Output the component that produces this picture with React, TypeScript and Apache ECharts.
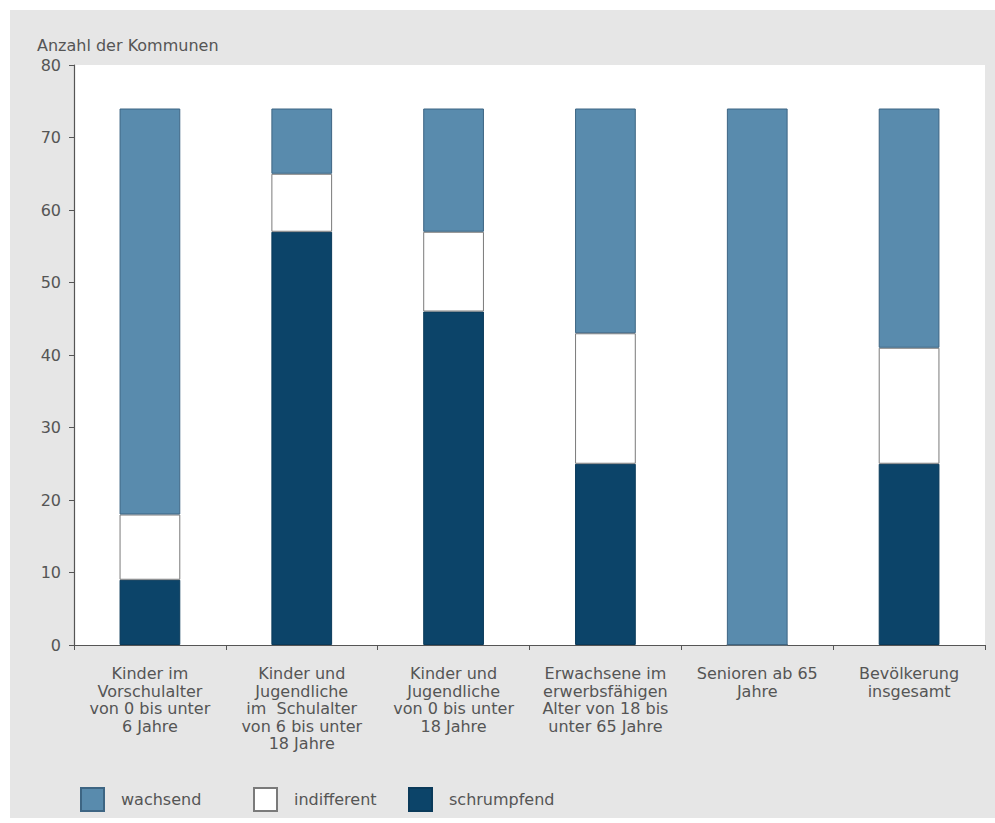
import React, { useEffect, useRef } from "react";
import * as echarts from "echarts";

const categories = [
  "Kinder im\nVorschulalter\nvon 0 bis unter\n6 Jahre",
  "Kinder und\nJugendliche\nim  Schulalter\nvon 6 bis unter\n18 Jahre",
  "Kinder und\nJugendliche\nvon 0 bis unter\n18 Jahre",
  "Erwachsene im\nerwerbsfähigen\nAlter von 18 bis\nunter 65 Jahre",
  "Senioren ab 65\nJahre",
  "Bevölkerung\ninsgesamt",
];
const schrumpfend = [9, 57, 46, 25, 0, 25];
const indifferent = [9, 8, 11, 18, 0, 16];
const wachsend = [56, 9, 17, 31, 74, 33];
const yTicks = { min: 0, max: 80, interval: 10 };

const FONT = "DejaVu Sans";
const TXT = "#555555";

export default function App() {
  const ref = useRef<HTMLDivElement>(null);
  useEffect(() => {
    if (!ref.current) return;
    const chart = echarts.init(ref.current, null, { renderer: "svg" });
    const legendBase = {
      top: 787,
      padding: 0,
      itemWidth: 23,
      itemHeight: 23,
      icon: "rect",
      textStyle: { fontFamily: FONT, fontSize: 16, color: TXT, padding: [0, 0, 0, 12] },
    };
    chart.setOption({
      animation: false,
      backgroundColor: "transparent",
      textStyle: { fontFamily: FONT },
      title: {
        text: "Anzahl der Kommunen",
        left: 32,
        top: 32,
        textStyle: { fontFamily: FONT, fontSize: 16, fontWeight: "normal", color: TXT },
      },
      legend: [
        { ...legendBase, left: 80, data: ["wachsend"] },
        { ...legendBase, left: 253, data: ["indifferent"] },
        { ...legendBase, left: 408, data: ["schrumpfend"] },
      ],
      grid: {
        left: 74,
        right: 10,
        top: 65,
        bottom: 178,
        show: true,
        backgroundColor: "#ffffff",
        borderWidth: 0,
      },
      xAxis: {
        type: "category",
        data: categories,
        axisLine: { lineStyle: { color: "#555", width: 1.2 } },
        axisTick: { show: true, length: 5, lineStyle: { color: "#555" } },
        axisLabel: {
          interval: 0,
          margin: 20,
          fontFamily: FONT,
          fontSize: 16,
          lineHeight: 17.5,
          color: TXT,
          align: "center",
        },
      },
      yAxis: {
        type: "value",
        min: yTicks.min,
        max: yTicks.max,
        interval: yTicks.interval,
        axisLine: { show: true, lineStyle: { color: "#555", width: 1.2 } },
        axisTick: { show: true, length: 5, lineStyle: { color: "#555" } },
        splitLine: { show: false },
        axisLabel: { fontFamily: FONT, fontSize: 16, color: TXT, margin: 13 },
      },
      series: [
        {
          name: "schrumpfend",
          type: "bar",
          stack: "a",
          barWidth: "40%",
          data: schrumpfend,
          itemStyle: { color: "#0c4469", borderColor: "#0a3a5a", borderWidth: 1 },
        },
        {
          name: "indifferent",
          type: "bar",
          stack: "a",
          data: indifferent,
          itemStyle: { color: "#ffffff", borderColor: "#7a7a7a", borderWidth: 1 },
        },
        {
          name: "wachsend",
          type: "bar",
          stack: "a",
          data: wachsend,
          itemStyle: { color: "#598bad", borderColor: "#3d6583", borderWidth: 1 },
        },
      ],
    });
    return () => chart.dispose();
  }, []);
  return (
    <div style={{ position: "fixed", left: 0, top: 0, width: 995, height: 823, background: "#ffffff" }}>
      <div style={{ position: "absolute", left: 10, top: 10, width: 985, height: 808, background: "#e6e6e6" }} />
      <div ref={ref} style={{ position: "absolute", left: 0, top: 0, width: 995, height: 823 }} />
    </div>
  );
}
